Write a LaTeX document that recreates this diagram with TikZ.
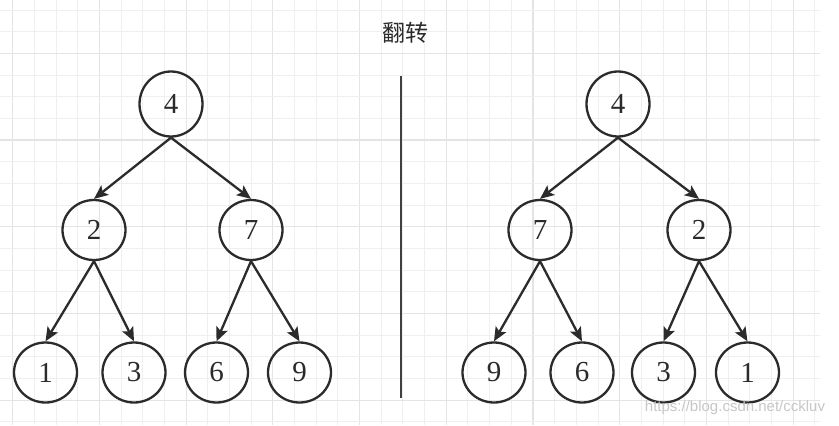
\documentclass[tikz,border=0pt]{standalone}
\usepackage{fontspec}
\setmainfont{Liberation Serif}
\newfontfamily\cjk{Noto Sans CJK SC}
\newfontfamily\wmfont{Liberation Sans}
\usetikzlibrary{shapes.geometric,arrows.meta}
\definecolor{gridminor}{HTML}{EFEFEF}
\definecolor{gridmajor}{HTML}{E4E4E4}
\definecolor{ink}{HTML}{2B2B2B}
\tikzset{
  tnode/.style={ellipse,draw=ink,line width=2.3pt,minimum width=63pt,minimum height=60pt,inner sep=0pt,
    font=\fontsize{29}{29}\selectfont,text=ink},
  rootnode/.style={tnode,minimum height=65pt},
  edge/.style={draw=ink,line width=2.3pt,-{Stealth[length=14pt,width=12pt,inset=3pt]}},
  divider/.style={draw=ink!90,line width=2.8pt},
}
\begin{document}
\begin{tikzpicture}[x=1pt,y=-1pt]
\useasboundingbox (0,0) rectangle (839,426);
\fill[white] (0,0) rectangle (839,426);
% grid
\foreach \i in {0,...,37}{
  \pgfmathsetmacro{\xx}{12.7+21.68*\i}
  \pgfmathtruncatemacro{\m}{mod(\i,4)}
  \ifnum\m=0
    \draw[gridmajor,line width=1.2pt] (\xx,0) -- (\xx,425);
  \else
    \draw[gridminor,line width=1pt] (\xx,0) -- (\xx,425);
  \fi
}
\foreach \j in {0,...,19}{
  \pgfmathsetmacro{\yy}{10+21.68*\j}
  \pgfmathtruncatemacro{\m}{mod(\j+2,4)}
  \ifnum\m=0
    \draw[gridmajor,line width=1.2pt] (0,\yy) -- (820,\yy);
  \else
    \draw[gridminor,line width=1pt] (0,\yy) -- (820,\yy);
  \fi
}
% title
\node[font=\cjk\fontsize{23}{23}\selectfont,text=ink] (title) at (405.5,33) {翻转};
% divider
\coordinate (dtop) at (401,76);
\coordinate (dbot) at (401,398);
\draw[divider] (dtop) -- (dbot);
% left tree
\node[rootnode] (L4) at (171,104) {4};
\node[tnode] (L2) at (94,230) {2};
\node[tnode] (L7) at (251,230) {7};
\node[tnode] (L1) at (45.5,372.5) {1};
\node[tnode] (L3) at (134,372.5) {3};
\node[tnode] (L6) at (216.5,372.5) {6};
\node[tnode] (L9) at (299.5,372.5) {9};
\draw[edge] (L4.south) -- (L2.north);
\draw[edge] (L4.south) -- (L7.north);
\draw[edge] (L2.south) -- (L1.north);
\draw[edge] (L2.south) -- (L3.north);
\draw[edge] (L7.south) -- (L6.north);
\draw[edge] (L7.south) -- (L9.north);
% right tree
\node[rootnode] (R4) at (618,104) {4};
\node[tnode] (R7) at (540,230) {7};
\node[tnode] (R2) at (699,230) {2};
\node[tnode] (R9) at (494,372.5) {9};
\node[tnode] (R6) at (582,372.5) {6};
\node[tnode] (R3) at (663.5,372.5) {3};
\node[tnode] (R1) at (747.5,372.5) {1};
\draw[edge] (R4.south) -- (R7.north);
\draw[edge] (R4.south) -- (R2.north);
\draw[edge] (R7.south) -- (R9.north);
\draw[edge] (R7.south) -- (R6.north);
\draw[edge] (R2.south) -- (R3.north);
\draw[edge] (R2.south) -- (R1.north);
% watermark
\node[font=\wmfont\fontsize{15}{15}\selectfont,text=black!22] (wm) at (735,408) {https://blog.csdn.net/cckluv};
\end{tikzpicture}
\end{document}
